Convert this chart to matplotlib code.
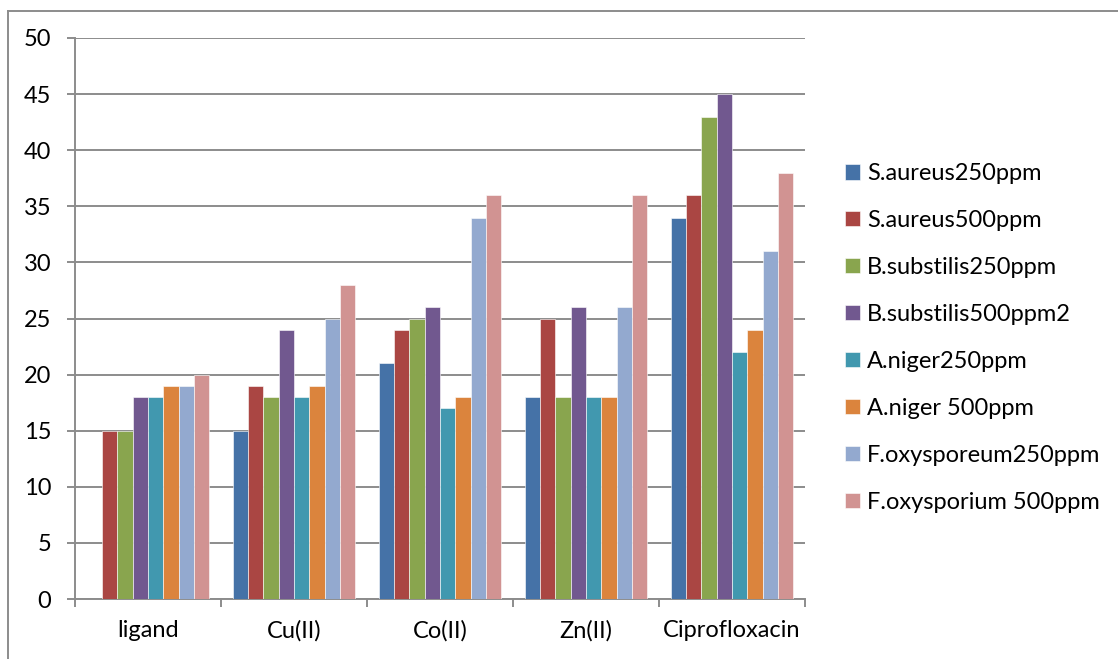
import matplotlib
matplotlib.use("Agg")
import matplotlib.pyplot as plt
import numpy as np
from matplotlib.lines import Line2D

plt.rcParams['font.family'] = ['Lato', 'DejaVu Sans']

# data
categories = ['ligand', 'Cu(II)', 'Co(II)', 'Zn(II)', 'Ciprofloxacin']
series_names = ['S.aureus250ppm', 'S.aureus500ppm', 'B.substilis250ppm',
                'B.substilis500ppm2', 'A.niger250ppm', 'A.niger 500ppm',
                'F.oxysporeum250ppm', 'F.oxysporium 500ppm']
s_aureus_250 = [0, 15, 21, 18, 34]
s_aureus_500 = [15, 19, 24, 25, 36]
b_subtilis_250 = [15, 18, 25, 18, 43]
b_subtilis_500 = [18, 24, 26, 26, 45]
a_niger_250 = [18, 18, 17, 18, 22]
a_niger_500 = [19, 19, 18, 18, 24]
f_oxy_250 = [19, 25, 34, 26, 31]
f_oxy_500 = [20, 28, 36, 36, 38]
series = [s_aureus_250, s_aureus_500, b_subtilis_250, b_subtilis_500,
          a_niger_250, a_niger_500, f_oxy_250, f_oxy_500]

colors = ['#4572A7', '#AA4643', '#89A54E', '#71588F',
          '#4198AF', '#DB843D', '#93A9CF', '#D19392']

fig = plt.figure(figsize=(11.18, 6.59), dpi=100)
ax = fig.add_axes([75/1118, 1 - 599/659, (805-75)/1118, (599-38)/659])

x = np.arange(len(categories))
w = 1 / 9.5
for i, (vals, c, name) in enumerate(zip(series, colors, series_names)):
    ax.bar(x + (i - 3.5) * w, vals, width=w, color=c, label=name,
           edgecolor='white', linewidth=0.4, zorder=3)

ax.set_xlim(-0.5, len(categories) - 0.5)
ax.set_ylim(0, 50)
ax.set_yticks(np.arange(0, 51, 5))
ax.yaxis.grid(True, color='#8c8c8c', linewidth=1.4, zorder=0)

ax.set_xticks(x)
ax.set_xticklabels(categories)
ax.set_xticks(np.arange(-0.5, len(categories)), minor=True)
ax.tick_params(axis='x', which='major', length=0, pad=15, labelsize=17)
ax.tick_params(axis='x', which='minor', length=6, width=1.4, color='#8c8c8c', direction='out')
ax.tick_params(axis='y', length=6, width=1.4, color='#8c8c8c', pad=11, labelsize=17)

for s in ['top', 'right']:
    ax.spines[s].set_visible(False)
for s in ['left', 'bottom']:
    ax.spines[s].set_color('#8c8c8c')
    ax.spines[s].set_linewidth(1.4)

fig.legend(loc='upper left', bbox_to_anchor=(845/1118, 1 - 163/659),
           frameon=False, fontsize=17, labelspacing=1.10,
           handlelength=0.64, handleheight=0.64, handletextpad=0.3,
           borderpad=0, borderaxespad=0)

# outer chart border (top and left visible)
fig.add_artist(Line2D([8/1118, 1], [1 - 10.5/659, 1 - 10.5/659],
                      transform=fig.transFigure, color='#8c8c8c', linewidth=1.4))
fig.add_artist(Line2D([8/1118, 8/1118], [0, 1 - 10.5/659],
                      transform=fig.transFigure, color='#8c8c8c', linewidth=1.4))

fig.savefig('out.png', dpi=100)
